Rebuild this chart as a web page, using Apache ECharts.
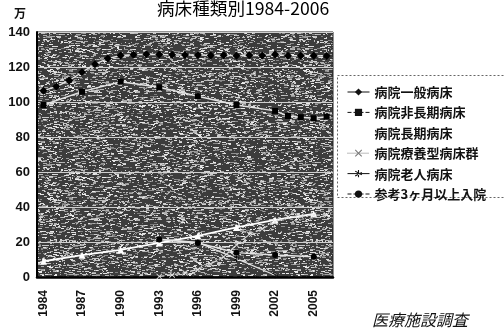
<!DOCTYPE html>
<html><head><meta charset="utf-8">
<script src="https://cdn.jsdelivr.net/npm/echarts@6/dist/echarts.min.js"></script>
<style>html,body{margin:0;padding:0;background:#fff}#c{width:504px;height:334px}</style>
</head><body><div id="c"></div>
<script>
// ---- data (units: 万床) ----
const years = ['1984','1985','1986','1987','1988','1989','1990','1991','1992','1993','1994','1995','1996','1997','1998','1999','2000','2001','2002','2003','2004','2005','2006'];
const seriesNames = ['病院一般病床','病院非長期病床','病院長期病床','病院療養型病床群','病院老人病床','参考3ヶ月以上入院'];
const general  = [106.5,108.8,112.3,117.0,121.6,124.8,126.6,127.0,127.3,127.1,127.0,126.8,126.9,126.6,126.7,126.5,126.7,126.6,127.2,126.5,126.4,126.5,126.3];
const nonLong  = [98.3,null,null,105.9,null,null,111.6,null,null,108.4,null,null,103.3,null,null,98.3,null,null,94.9,92.0,91.3,90.7,91.6];
const longTerm = [9.0,null,null,12.5,null,null,15.5,null,null,19.5,null,null,23.5,null,null,28.3,null,null,32.6,null,null,36.0,null];
const ryoyo    = [null,null,null,null,null,null,null,null,null,0.3,1.2,2.5,4.3,7.5,11.5,18.3,24.5,27.5,31.5,34.4,34.8,35.4,35.4];
const elderly  = [null,null,null,null,null,null,null,null,null,21.6,null,null,19.8,null,null,10.5,null,null,1.0,null,null,null,null];
const over3m   = [null,null,null,null,null,null,null,null,null,21.4,null,null,19.4,null,null,13.9,null,null,12.6,null,null,11.6,null];
const yTicks = {min:0, max:140, interval:20};

// ---- halftone-like texture for the plot background (style only) ----
function hsh(x,y){const v=Math.sin(x*12.9898+y*78.233)*43758.5453;return v-Math.floor(v);}
const TW=256,TH=128;
const tex=document.createElement('canvas');tex.width=TW;tex.height=TH;
const tc=tex.getContext('2d');tc.fillStyle='#3c3c3c';tc.fillRect(0,0,TW,TH);
for(let y=0;y<TH;y++){for(let x=0;x<TW;x++){if(hsh(x,y)<0.15){const len=1+Math.floor(hsh(x+0.37,y+0.71)*4);const g=120+Math.floor(hsh(x+0.13,y+0.53)*120);tc.fillStyle='rgb('+g+','+g+','+g+')';tc.fillRect(x,y,len,1);}}}

const X='path://M0,1L1,0L5,4L9,0L10,1L6,5L10,9L9,10L5,6L1,10L0,9L4,5Z';
const AST='path://M4.3,0h1.4v10h-1.4z M0.3,2.2l0.7,-1.2l8.7,5l-0.7,1.2z M0.3,7.8l0.7,1.2l8.7,-5l-0.7,-1.2z';
const light='#e4e4e4';

const chart=echarts.init(document.getElementById('c'),null,{renderer:'canvas'});
chart.setOption({
  animation:false,
  title:{text:'病床種類別1984-2006',left:157,top:0,padding:0,
    textStyle:{fontFamily:'Noto Sans CJK JP',fontSize:17.6,fontWeight:'normal',color:'#000'}},
  graphic:[
    {type:'text',left:14,top:7,style:{text:'万',font:'bold 12px "Noto Sans CJK JP"',fill:'#111'}},
    {type:'text',left:372,top:312,style:{text:'医療施設調査',font:'italic 16px "Noto Sans CJK JP"',fill:'#111'}},
    {type:'rect',shape:{x:337.5,y:75.5,width:200,height:122},style:{fill:'none',stroke:'#666',lineWidth:1,lineDash:[2,2]},z:-1}
  ],
  legend:{
    orient:'vertical',left:342,top:80,itemWidth:22,itemHeight:9,itemGap:6.4,selectedMode:false,
    textStyle:{fontFamily:'Noto Sans CJK JP',fontSize:13,fontWeight:'bold',color:'#111',lineHeight:14},
    data:[
      {name:seriesNames[0],itemStyle:{color:'#111'},lineStyle:{color:'#111',type:'solid',width:1}},
      {name:seriesNames[1],itemStyle:{color:'#111'},lineStyle:{color:'#111',type:'dashed',width:1}},
      {name:seriesNames[2],itemStyle:{color:'#fff'},lineStyle:{color:'#fff',width:1}},
      {name:seriesNames[3],itemStyle:{color:'#777'},lineStyle:{color:'#777',type:'dotted',width:1}},
      {name:seriesNames[4],itemStyle:{color:'#111'},lineStyle:{color:'#111',type:'solid',width:1}},
      {name:seriesNames[5],itemStyle:{color:'#111'},lineStyle:{color:'#111',type:'dashed',width:1}}
    ]
  },
  grid:{left:37,right:171,top:32,bottom:57,show:true,borderColor:'#222',borderWidth:1,
    backgroundColor:{image:tex,repeat:'repeat'}},
  xAxis:{type:'category',data:years,boundaryGap:true,
    axisLine:{lineStyle:{color:'#000',width:2.5}},axisTick:{show:false},
    axisLabel:{interval:2,rotate:90,margin:13,fontFamily:'Liberation Sans',fontWeight:'bold',fontSize:12,color:'#111'}},
  yAxis:{type:'value',min:yTicks.min,max:yTicks.max,interval:yTicks.interval,
    axisLine:{show:true,lineStyle:{color:'#000',width:2}},axisTick:{show:false},
    splitLine:{lineStyle:{color:'#cfcfcf',width:1}},
    axisLabel:{margin:7,fontFamily:'Liberation Sans',fontWeight:'bold',fontSize:13,color:'#111'}},
  series:[
    {name:seriesNames[0],type:'line',data:general,connectNulls:true,symbol:'diamond',symbolSize:8,
      itemStyle:{color:'#000'},lineStyle:{color:light,width:1.4}},
    {name:seriesNames[1],type:'line',data:nonLong,connectNulls:true,symbol:'rect',symbolSize:6,
      itemStyle:{color:'#000'},lineStyle:{color:light,width:1.4}},
    {name:seriesNames[2],type:'line',data:longTerm,connectNulls:true,symbol:'triangle',symbolSize:7,
      itemStyle:{color:'#fff'},lineStyle:{color:'#fff',width:1.8}},
    {name:seriesNames[3],type:'line',data:ryoyo,connectNulls:true,symbol:X,symbolSize:6,
      itemStyle:{color:'#e6e6e6'},lineStyle:{color:'#d8d8d8',width:1.3,type:'dashed'}},
    {name:seriesNames[4],type:'line',data:elderly,connectNulls:true,symbol:AST,symbolSize:6,
      itemStyle:{color:'#000'},lineStyle:{color:light,width:1.2}},
    {name:seriesNames[5],type:'line',data:over3m,connectNulls:true,symbol:'circle',symbolSize:6,
      itemStyle:{color:'#000'},lineStyle:{color:light,width:1.4}}
  ]
});
</script></body></html>
